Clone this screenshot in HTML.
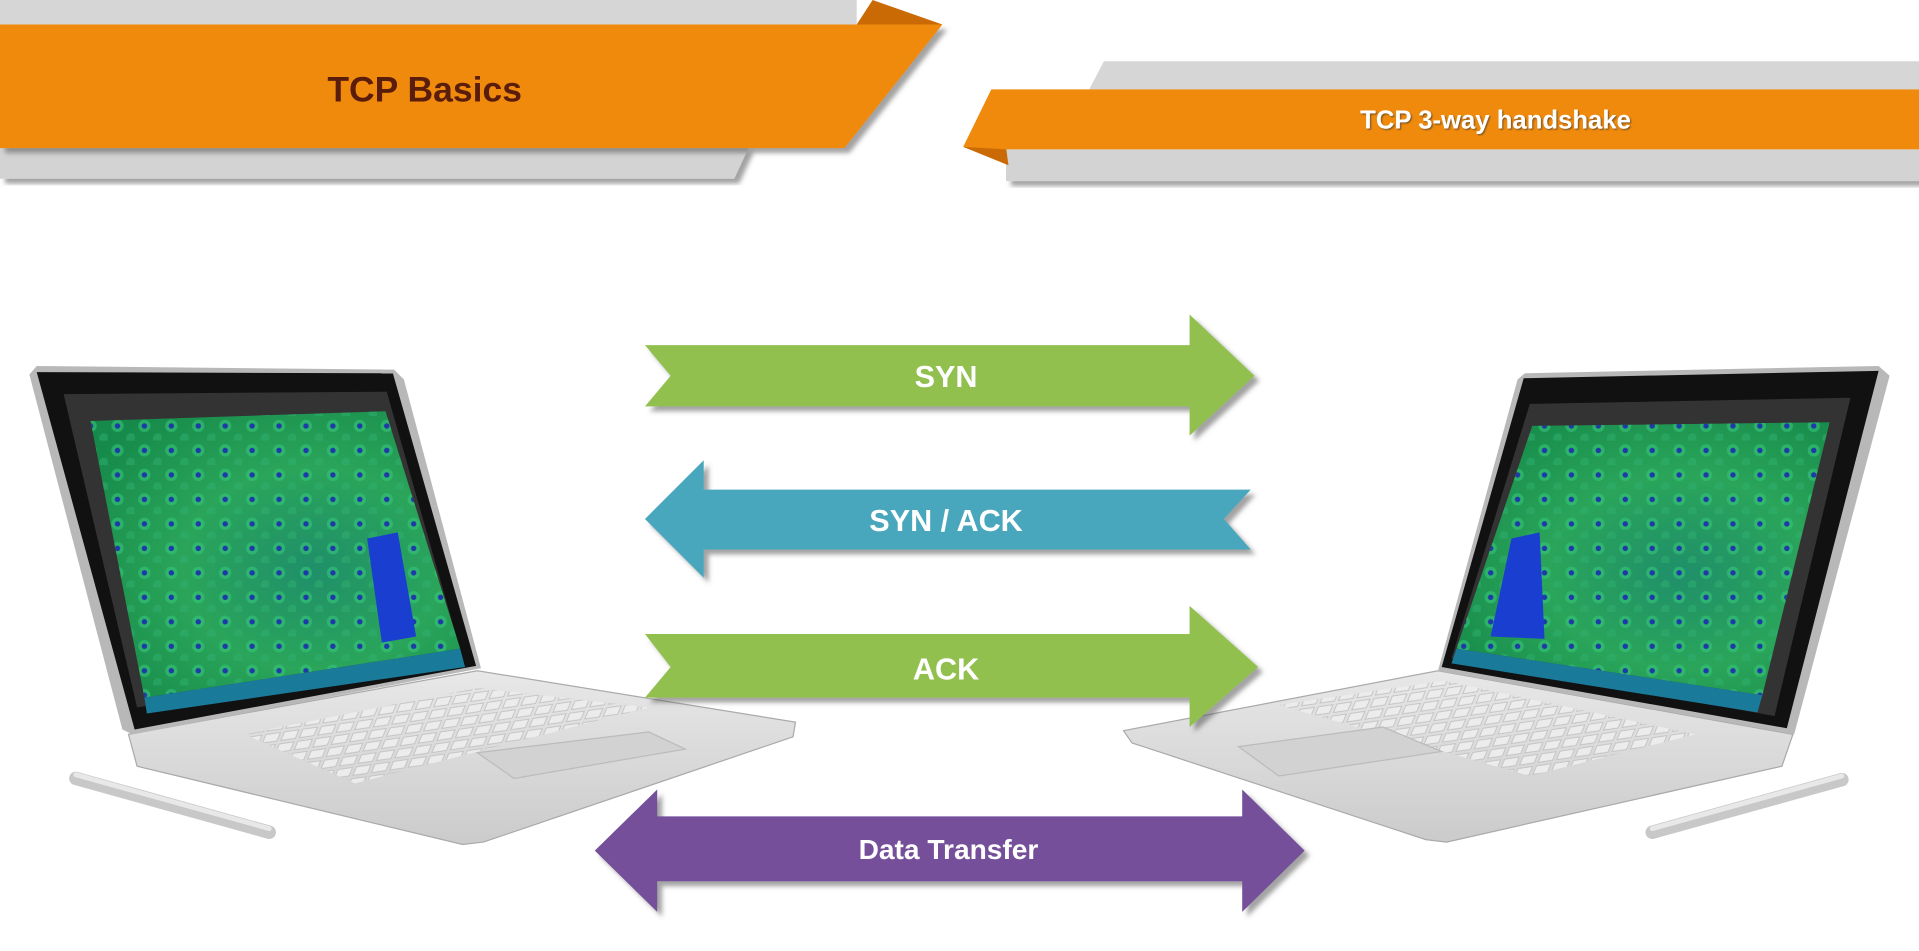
<!DOCTYPE html>
<html><head><meta charset="utf-8"><style>
html,body{margin:0;padding:0;background:#fff;width:1919px;height:951px;overflow:hidden}
svg{display:block}
text{font-family:"Liberation Sans",sans-serif;font-weight:bold}
</style></head><body>
<svg width="1919" height="951" viewBox="0 0 1568 777" preserveAspectRatio="none" xmlns="http://www.w3.org/2000/svg">
<defs>
<filter id="sh" x="-5%" y="-10%" width="115%" height="130%"><feDropShadow dx="4" dy="4" stdDeviation="2" flood-color="#555" flood-opacity="0.55"/></filter>
<filter id="ts"><feDropShadow dx="1" dy="1" stdDeviation="0.6" flood-color="#333" flood-opacity="0.6"/></filter>
<radialGradient id="scr" cx="0.6" cy="0.55" r="0.7"><stop offset="0" stop-color="#1f8f6a"/><stop offset="0.5" stop-color="#2aa55a"/><stop offset="1" stop-color="#168a4a"/></radialGradient>
<pattern id="dots" width="22" height="20" patternUnits="userSpaceOnUse"><circle cx="8" cy="8" r="5" fill="#36c47a" opacity="0.6"/><circle cx="8" cy="8" r="2.2" fill="#1d3aa8"/><circle cx="19" cy="18" r="4" fill="#2fb070" opacity="0.5"/></pattern>
<pattern id="keys" width="14" height="10" patternUnits="userSpaceOnUse" patternTransform="skewX(-30) rotate(-9)"><rect x="1" y="1" width="11" height="7" fill="#ececec" stroke="#c2c2c2" stroke-width="0.8"/></pattern>
<linearGradient id="base" x1="0" y1="0" x2="0" y2="1"><stop offset="0" stop-color="#e8e8e8"/><stop offset="1" stop-color="#cbcbcb"/></linearGradient>
</defs>
<!-- left banner -->
<polygon points="0,0 700,0 700,20 0,20" fill="#d6d6d6"/>
<polygon points="713,0 770,20 700,20" fill="#c96a05"/>
<polygon points="0,120 612,120 600,146 0,146" fill="#d3d3d3" filter="url(#sh)"/>
<polygon points="0,20 770,20 690,121 0,121" fill="#f08a0c" filter="url(#sh)"/>
<text x="347" y="83" font-size="29" fill="#5a1d0c" text-anchor="middle" style="font-family:'Liberation Sans Narrow','Liberation Sans',sans-serif">TCP Basics</text>
<!-- right banner -->
<polygon points="902,50 1568,50 1568,73 890,73" fill="#d6d6d6"/>
<polygon points="822,122 1568,122 1568,148 822,148" fill="#d3d3d3" filter="url(#sh)"/>
<polygon points="787,120 822,120 824,135" fill="#c96a05"/>
<polygon points="810,73 1568,73 1568,122 822,122 787,120" fill="#f08a0c"/>
<text x="1222" y="105" font-size="21" fill="#fff" text-anchor="middle" filter="url(#ts)" style="font-family:'Liberation Sans Narrow','Liberation Sans',sans-serif">TCP 3-way handshake</text>

<!-- left laptop -->
<line x1="62" y1="636" x2="220" y2="680" stroke="#c8c8c8" stroke-width="11" stroke-linecap="round"/>
<line x1="62" y1="633" x2="220" y2="677" stroke="#e8e8e8" stroke-width="4" stroke-linecap="round"/>
<polygon points="105,600 390,548 650,590 648,602 395,688 378,690 112,626" fill="url(#base)" stroke="#aaa" stroke-width="1"/>
<polygon points="200,600 390,562 530,578 290,640" fill="url(#keys)"/>
<polygon points="390,615 530,598 560,612 420,636" fill="#d2d2d2" stroke="#bbb"/>
<polygon points="24,306 30,299 322,302 330,310 393,546 108,600 100,596" fill="#b8b8b8"/>
<polygon points="30,304 321,305 389,544 110,596" fill="#111"/>
<polygon points="52,322 316,320 378,538 112,578" fill="#333"/>
<polygon points="74,344 315,336 376,530 118,570" fill="url(#scr)"/>
<polygon points="74,344 315,336 376,530 118,570" fill="url(#dots)"/>
<polygon points="300,440 325,435 340,520 312,525" fill="#1a3fd0"/>
<polygon points="118,570 376,530 380,545 120,583" fill="#1a7a9a"/>
<!-- right laptop -->
<line x1="1350" y1="680" x2="1505" y2="637" stroke="#c8c8c8" stroke-width="11" stroke-linecap="round"/>
<line x1="1350" y1="677" x2="1505" y2="634" stroke="#e8e8e8" stroke-width="4" stroke-linecap="round"/>
<polygon points="918,597 1175,548 1465,600 1456,626 1182,688 1165,686 925,607" fill="url(#base)" stroke="#aaa" stroke-width="1"/>
<polygon points="1045,576 1180,556 1385,600 1250,634" fill="url(#keys)"/>
<polygon points="1012,610 1130,594 1178,614 1045,634" fill="#d2d2d2" stroke="#bbb"/>
<polygon points="1240,310 1246,305 1535,299 1544,307 1466,600 1175,548" fill="#b8b8b8"/>
<polygon points="1245,309 1535,303 1460,595 1178,545" fill="#111"/>
<polygon points="1250,330 1512,325 1450,585 1186,538" fill="#333"/>
<polygon points="1252,348 1495,345 1440,568 1190,530" fill="url(#scr)"/>
<polygon points="1252,348 1495,345 1440,568 1190,530" fill="url(#dots)"/>
<polygon points="1235,440 1258,435 1262,522 1218,520" fill="#1a3fd0"/>
<polygon points="1190,530 1440,568 1436,582 1186,542" fill="#1a7a9a"/>

<!-- arrows -->
<g filter="url(#sh)">
<polygon points="527,282 972,282 972,257 1025,307 972,356 972,332 527,332 548,307" fill="#92c050"/>
<polygon points="527,424 575,376 575,400 1022,400 1000,424 1022,449 575,449 575,472" fill="#48a7bd"/>
<polygon points="527,518 972,518 972,495 1028,545 972,594 972,570 527,570 548,545" fill="#92c050"/>
<polygon points="486,695 537,645 537,667 1015,667 1015,645 1066,695 1015,745 1015,720 537,720 537,745" fill="#744f9a"/>
</g>
<text x="773" y="316" font-size="25" fill="#fff" text-anchor="middle">SYN</text>
<text x="773" y="434" font-size="25" fill="#fff" text-anchor="middle">SYN / ACK</text>
<text x="773" y="555" font-size="25" fill="#fff" text-anchor="middle">ACK</text>
<text x="775" y="702" font-size="23" fill="#fff" text-anchor="middle">Data Transfer</text>
</svg>
</body></html>
